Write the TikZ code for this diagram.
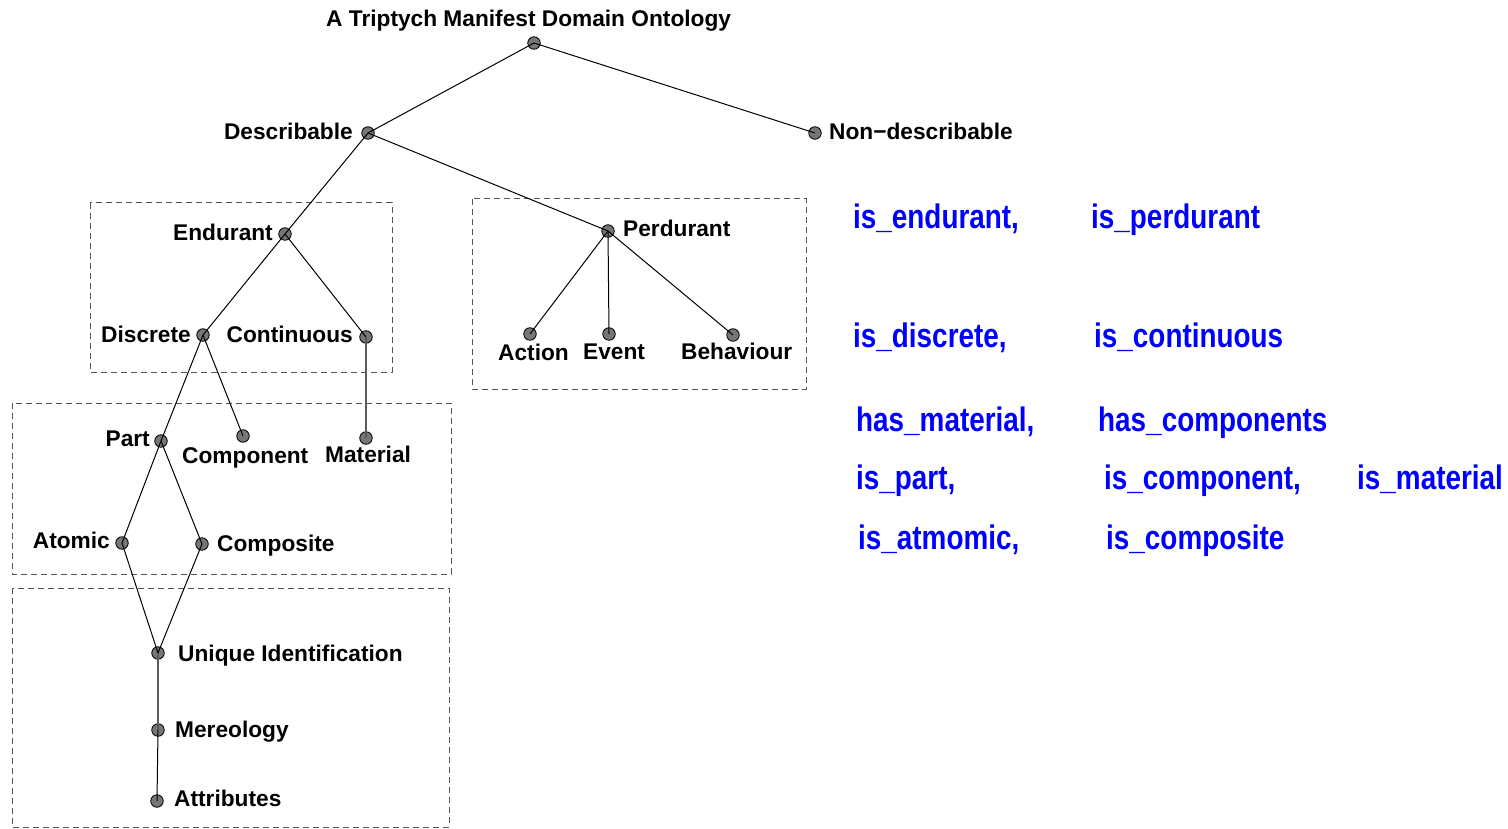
\documentclass[tikz,border=0pt]{standalone}
\usepackage{fontspec}
\setmainfont{Liberation Sans}
\newfontfamily\narrowbold[FakeStretch=0.82]{Liberation Sans Bold}
\definecolor{dotgray}{RGB}{118,118,118}
\definecolor{boxgray}{RGB}{85,85,85}
\definecolor{linkgray}{RGB}{90,90,90}
\begin{document}
\begin{tikzpicture}[x=1pt,y=-1pt,
  dot/.style={circle,draw=black,line width=0.8pt,fill=dotgray,minimum size=12.5pt,inner sep=0pt},
  lbl/.style={inner sep=0pt,font=\bfseries\fontsize{22.7}{26}\selectfont},
  pred/.style={inner sep=0pt,anchor=base west,text=blue,font=\narrowbold\fontsize{34}{38}\selectfont},
  link/.style={line width=1pt,black},
  softlink/.style={line width=1.6pt,linkgray},
  group/.style={draw=boxgray,line width=1pt,dash pattern=on 6pt off 4pt}]
\useasboundingbox (0,0) rectangle (1508,829);

% dashed grouping boxes
\draw[group] (90,203) rectangle (392,372);
\draw[group] (472,199) rectangle (806,389);
\draw[group] (12,403) rectangle (451,574);
\draw[group] (12,588) rectangle (449,827);

% tree nodes
\node[dot] (root) at (534,43) {};
\node[dot] (desc) at (368,133) {};
\node[dot] (ndesc) at (815,133) {};
\node[dot] (endu) at (285,234) {};
\node[dot] (perd) at (608,231) {};
\node[dot] (disc) at (203,335) {};
\node[dot] (cont) at (366,337) {};
\node[dot] (act) at (530,334) {};
\node[dot] (evt) at (609,334) {};
\node[dot] (beh) at (733,335) {};
\node[dot] (part) at (161,441) {};
\node[dot] (comp) at (243,436) {};
\node[dot] (mat) at (366,438) {};
\node[dot] (atom) at (122,543) {};
\node[dot] (cmps) at (202,544) {};
\node[dot] (uid) at (158,653) {};
\node[dot] (mer) at (158,730) {};
\node[dot] (attr) at (157,801) {};

% connectors
\draw[link] (root.center) -- (desc.center);
\draw[link] (root.center) -- (ndesc.center);
\draw[link] (desc.center) -- (endu.center);
\draw[link] (desc.center) -- (perd.center);
\draw[link] (endu.center) -- (disc.center);
\draw[link] (endu.center) -- (cont.center);
\draw[link] (perd.center) -- (act.center);
\draw[link] (perd.center) -- (evt.center);
\draw[link] (perd.center) -- (beh.center);
\draw[link] (disc.center) -- (part.center);
\draw[link] (disc.center) -- (comp.center);
\draw[softlink] (cont.center) -- (mat.center);
\draw[link] (part.center) -- (atom.center);
\draw[link] (part.center) -- (cmps.center);
\draw[link] (atom.center) -- (uid.center);
\draw[link] (cmps.center) -- (uid.center);
\draw[softlink] (uid.center) -- (mer.center);
\draw[link] (mer.center) -- (attr.center);

% labels
\node[lbl,anchor=base west] (ttl) at (326,27) {A Triptych Manifest Domain Ontology};
\node[lbl,anchor=base east] (ldesc) at (353,140) {Describable};
\node[lbl,anchor=base west] (lndesc) at (829,140) {Non−describable};
\node[lbl,anchor=base east] (lendu) at (273,241) {Endurant};
\node[lbl,anchor=base west] (lperd) at (623,237) {Perdurant};
\node[lbl,anchor=base east] (ldisc) at (191,342) {Discrete};
\node[lbl,anchor=base east] (lcont) at (353,342) {Continuous};
\node[lbl,anchor=base west] (lact) at (498,360) {Action};
\node[lbl,anchor=base west] (levt) at (583,359) {Event};
\node[lbl,anchor=base west] (lbeh) at (681,359) {Behaviour};
\node[lbl,anchor=base east] (lpart) at (150,446) {Part};
\node[lbl,anchor=base west] (lcomp) at (182,463) {Component};
\node[lbl,anchor=base west] (lmat) at (325,462) {Material};
\node[lbl,anchor=base east] (latom) at (110,548) {Atomic};
\node[lbl,anchor=base west] (lcmps) at (217,551) {Composite};
\node[lbl,anchor=base west] (luid) at (178,661) {Unique Identification};
\node[lbl,anchor=base west] (lmer) at (175,737) {Mereology};
\node[lbl,anchor=base west] (lattr) at (174,806) {Attributes};

% predicate names
\node[pred] (p1) at (853,229) {is\_endurant,};
\node[pred] (p2) at (1091,229) {is\_perdurant};
\node[pred] (p3) at (853,347) {is\_discrete,};
\node[pred] (p4) at (1094,347) {is\_continuous};
\node[pred] (p5) at (856,431) {has\_material,};
\node[pred] (p6) at (1098,431) {has\_components};
\node[pred] (p7) at (856,489) {is\_part,};
\node[pred] (p8) at (1104,489) {is\_component,};
\node[pred] (p9) at (1357,489) {is\_material};
\node[pred] (p10) at (858,549) {is\_atmomic,};
\node[pred] (p11) at (1106,549) {is\_composite};
\end{tikzpicture}
\end{document}
